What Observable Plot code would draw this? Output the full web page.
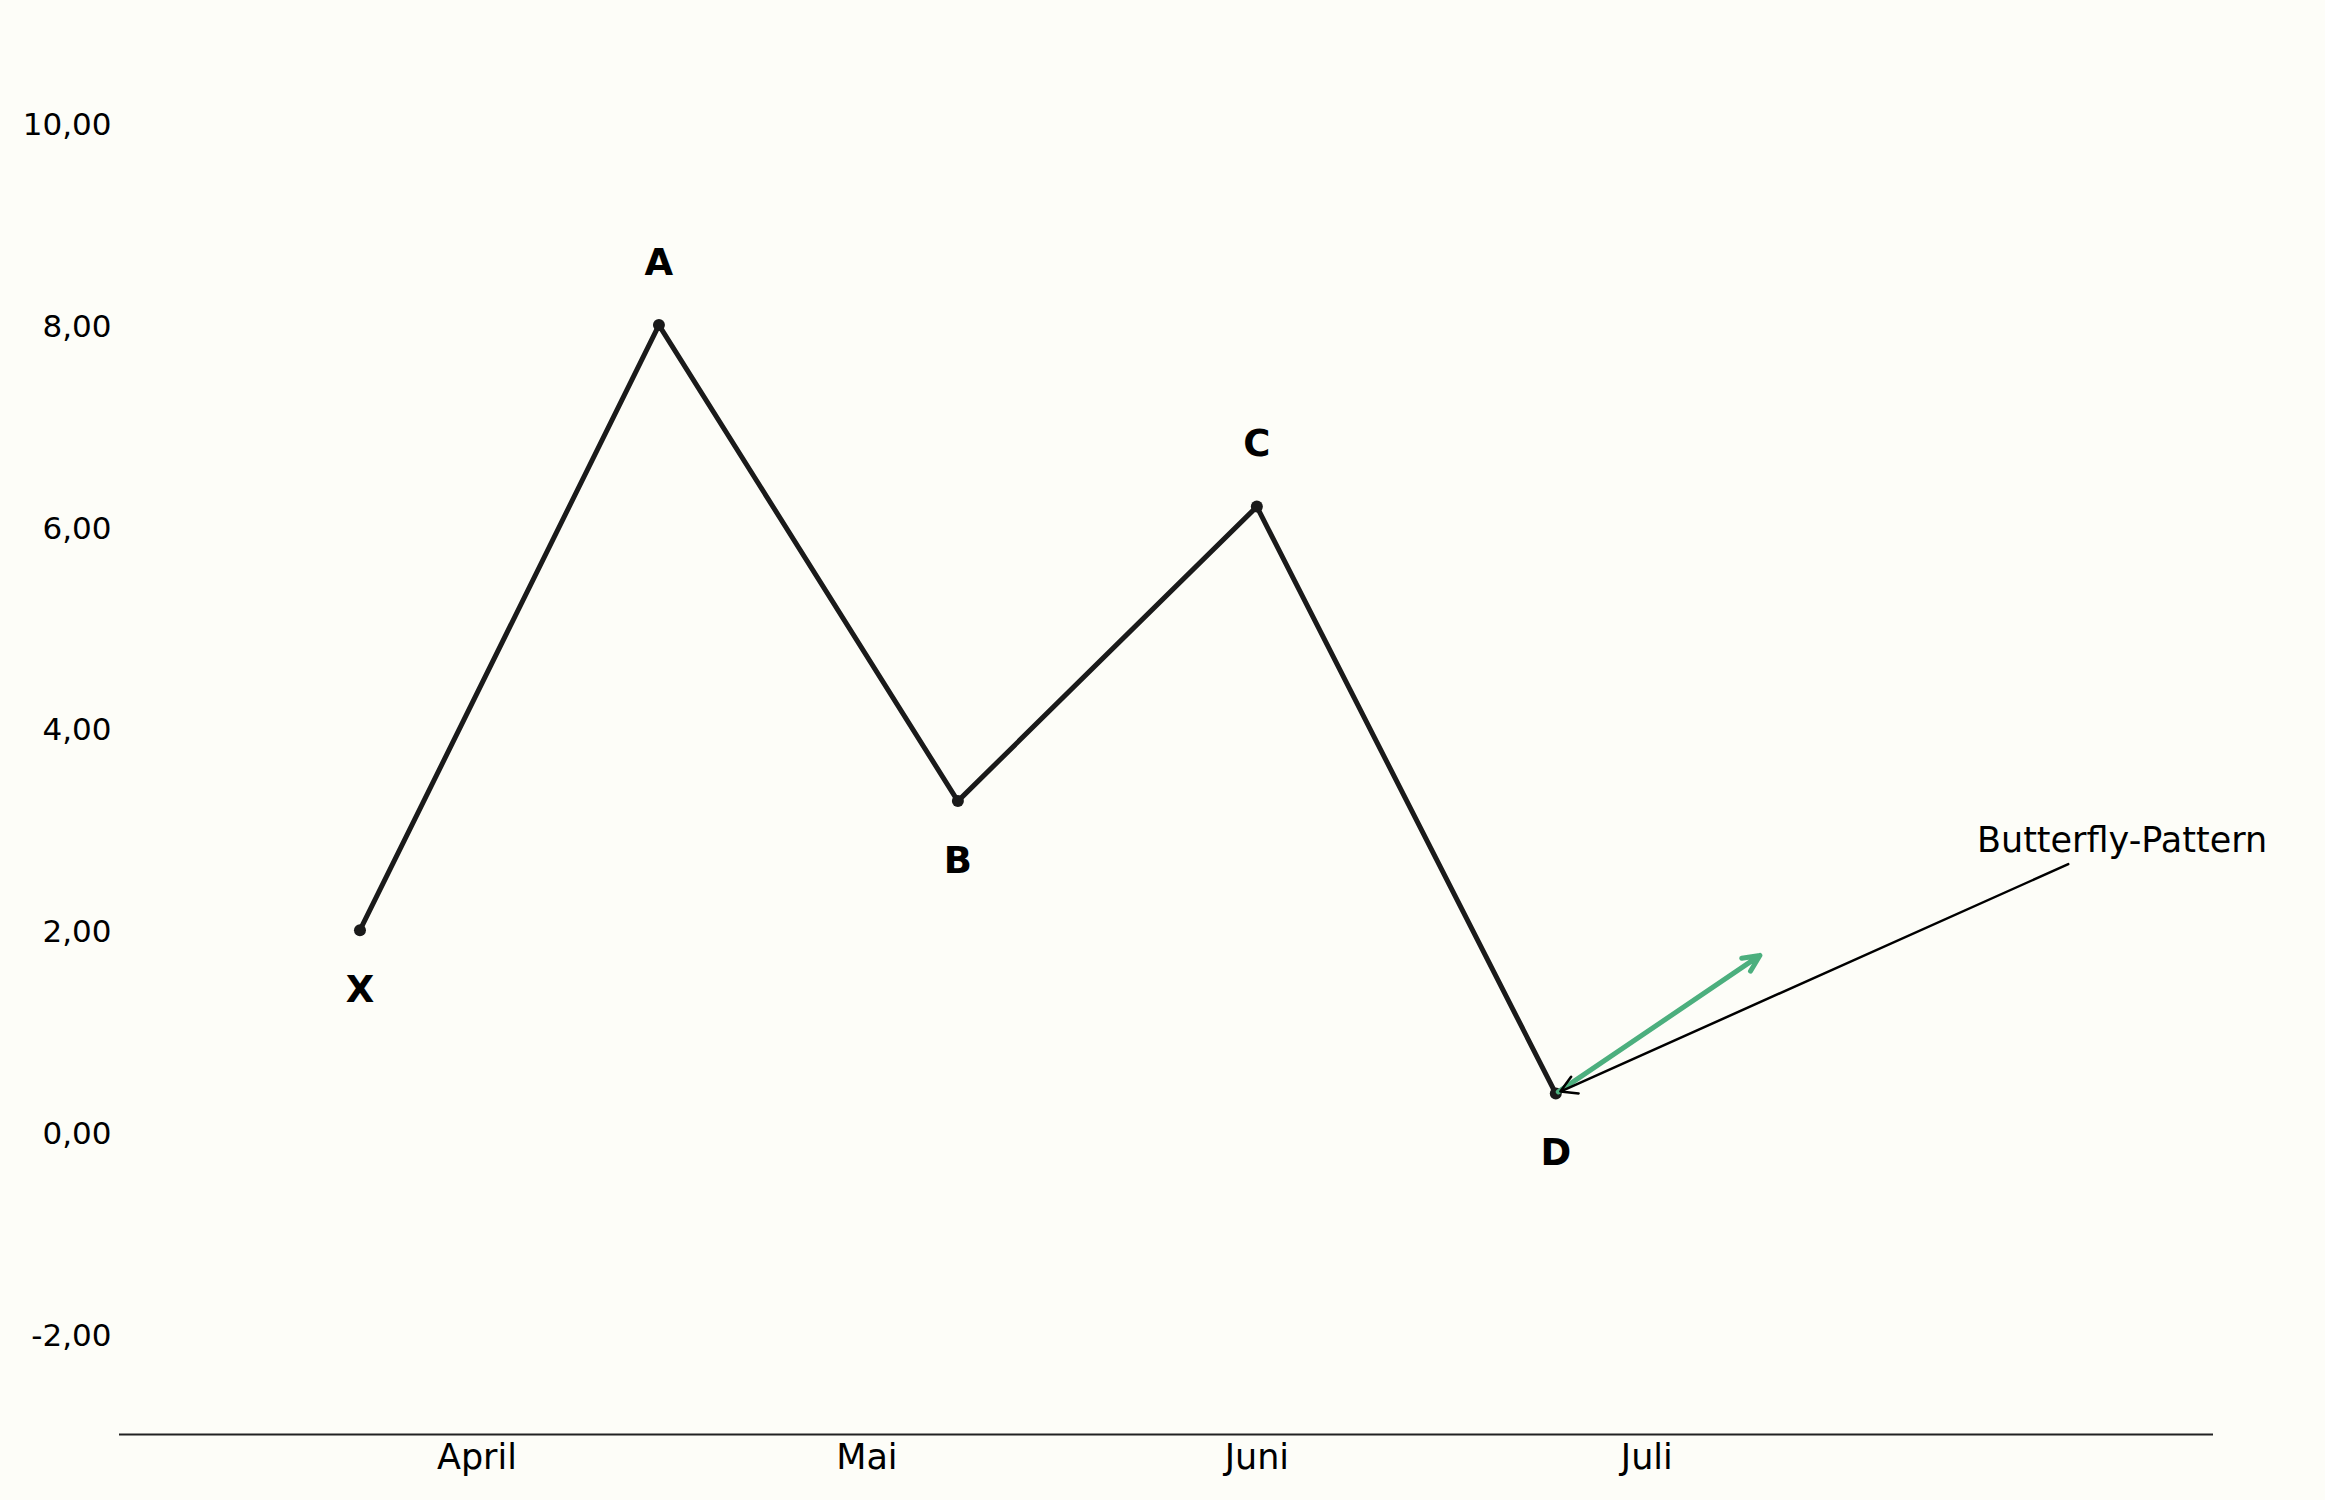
<!DOCTYPE html>
<html><head><meta charset="utf-8">
<script src="https://cdn.jsdelivr.net/npm/d3@7"></script>
<script src="https://cdn.jsdelivr.net/npm/@observablehq/plot@0.6"></script>
<style>
html,body{margin:0;padding:0;background:#fdfdf8;}
#chart svg{display:block;background:#fdfdf8;}
</style>
</head><body><div id="chart"></div>
<script>
// ---- data ----
const pointLabels = ["X", "A", "B", "C", "D"];
const pointDays   = [0, 23, 46, 69, 92];          // days since start
const pointValues = [2.0, 8.0, 3.28, 6.2, 0.38];
const labelSides  = ["below", "above", "below", "above", "below"];

const monthTickDays = [9, 39, 69, 99];
const monthNames    = ["April", "Mai", "Juni", "Juli"];
const yTicks  = [-2, 0, 2, 4, 6, 8, 10];
const xDomain = [-18.5, 142.6];
const yDomain = [-3, 11];

const trendStart = [92, 0.38];
const trendEnd   = [107.7, 1.75];

const annotationText   = ["Butterfly-Pattern"];
const annotationXs     = [124.4];
const annotationYs     = [2.89];
const annotationCenter = [135.5];

// ---- build ----
const points = pointLabels.map((l, i) => ({label: l, day: pointDays[i], value: pointValues[i], side: labelSides[i]}));
const de = d3.formatLocale({decimal: ",", thousands: ".", grouping: [3], currency: ["", " €"], minus: "-"});
const fmt = de.format(".2f");
const font = "DejaVu Sans, sans-serif";
const D = points[points.length - 1];

const chart = Plot.plot({
  width: 2325,
  height: 1500,
  marginLeft: 119,
  marginRight: 112,
  marginTop: 22,
  marginBottom: 66,
  style: {background: "#fdfdf8", fontFamily: font, color: "#000"},
  x: {type: "linear", domain: xDomain},
  y: {domain: yDomain},
  marks: [
    Plot.axisY({ticks: yTicks, tickFormat: fmt, tickSize: 0, tickPadding: 8, fontSize: 31, dy: 2, label: null, fill: "#000"}),
    Plot.axisX({ticks: monthTickDays, tickFormat: d => monthNames[monthTickDays.indexOf(d)], tickSize: 0, tickPadding: 10, fontSize: 35, label: null, fill: "#000"}),
    Plot.ruleY([yDomain[0]], {stroke: "#222", strokeWidth: 2}),
    Plot.line(points, {x: "day", y: "value", stroke: "#1a1a1a", strokeWidth: 5, strokeLinejoin: "round"}),
    Plot.dot(points, {x: "day", y: "value", r: 6, fill: "#1a1a1a", stroke: "none"}),
    Plot.text(points.filter(d => d.side === "above"), {x: "day", y: "value", text: "label", dy: -62, fontSize: 37, fontWeight: "bold", fill: "#000"}),
    Plot.text(points.filter(d => d.side === "below"), {x: "day", y: "value", text: "label", dy: 60, fontSize: 37, fontWeight: "bold", fill: "#000"}),
    Plot.arrow([{x1: trendStart[0], y1: trendStart[1], x2: trendEnd[0], y2: trendEnd[1]}],
      {x1: "x1", y1: "y1", x2: "x2", y2: "y2", stroke: "#4caf7e", strokeWidth: 5, headLength: 5.5, headAngle: 50, insetStart: 3}),
    Plot.arrow(annotationText.map((t, i) => ({x1: annotationCenter[i], y1: annotationYs[i], x2: D.day, y2: D.value})),
      {x1: "x1", y1: "y1", x2: "x2", y2: "y2", stroke: "#000", strokeWidth: 2.5, headLength: 11, insetStart: 58, insetEnd: 5}),
    Plot.text(annotationText.map((t, i) => ({t, x: annotationXs[i], y: annotationYs[i]})),
      {x: "x", y: "y", text: "t", textAnchor: "start", fontSize: 35, fill: "#000"})
  ]
});
document.getElementById("chart").append(chart);
</script>
</body></html>
